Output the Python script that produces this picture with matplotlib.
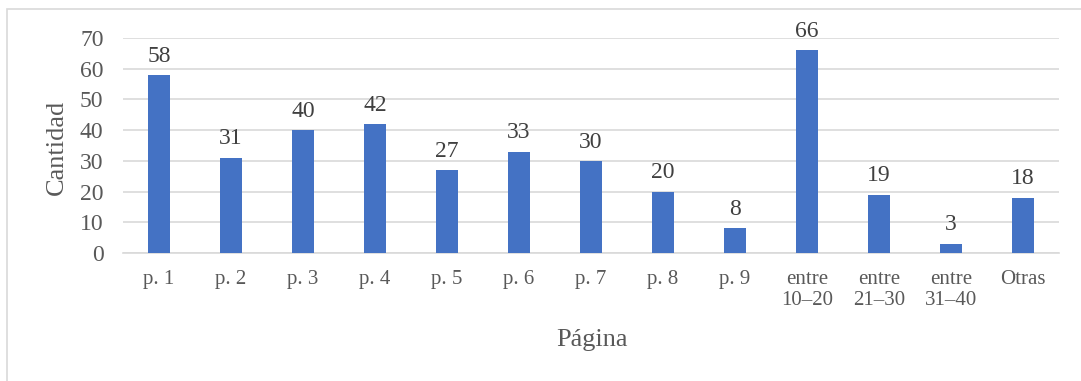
import matplotlib.pyplot as plt
from matplotlib.patches import Rectangle

categories = ["p. 1", "p. 2", "p. 3", "p. 4", "p. 5", "p. 6", "p. 7", "p. 8", "p. 9",
              "entre\n10–20", "entre\n21–30", "entre\n31–40", "Otras"]
values = [58, 31, 40, 42, 27, 33, 30, 20, 8, 66, 19, 3, 18]
yticks = [0, 10, 20, 30, 40, 50, 60, 70]

plt.rcParams['font.family'] = ['Liberation Serif', 'DejaVu Serif']

W, H = 1081, 381
fig = plt.figure(figsize=(W / 100, H / 100), dpi=100)
fig.patches.append(Rectangle((7 / W, -0.2), 1.2, 1 - 9 / H + 0.2, transform=fig.transFigure,
                             fill=False, edgecolor="#D9D9D9", linewidth=1.2))

ax = fig.add_axes([123 / W, 1 - 253 / H, (1059 - 123) / W, (253 - 38) / H])
x = list(range(len(categories)))
bars = ax.bar(x, values, width=0.31, color="#4472C4", zorder=3)
for xi, v in zip(x, values):
    ax.annotate(str(v), (xi, v), xytext=(0, 6), textcoords="offset points",
                ha="center", va="bottom", fontsize=17, color="#404040")

ax.set_xlim(-0.5, len(categories) - 0.5)
ax.set_ylim(0, 70)
ax.set_yticks(yticks)
ax.yaxis.grid(True, color="#D9D9D9", linewidth=1.2, zorder=0)
ax.set_axisbelow(True)
for s in ["top", "right", "left"]:
    ax.spines[s].set_visible(False)
ax.spines["bottom"].set_color("#D9D9D9")
ax.spines["bottom"].set_linewidth(1.2)
ax.set_xticks(x)
ax.set_xticklabels(categories, linespacing=1.2)
ax.tick_params(axis="both", length=0, labelcolor="#595959")
ax.tick_params(axis="x", pad=12, labelsize=15)
ax.tick_params(axis="y", pad=14, labelsize=17)

fig.text(57 / W, 1 - 147 / H, "Cantidad", rotation=90, ha="center", va="center",
         fontsize=19, color="#595959")
fig.text(592 / W, 1 - 340 / H, "Página", ha="center", va="center",
         fontsize=19, color="#595959")

fig.savefig("out.png", dpi=100)
